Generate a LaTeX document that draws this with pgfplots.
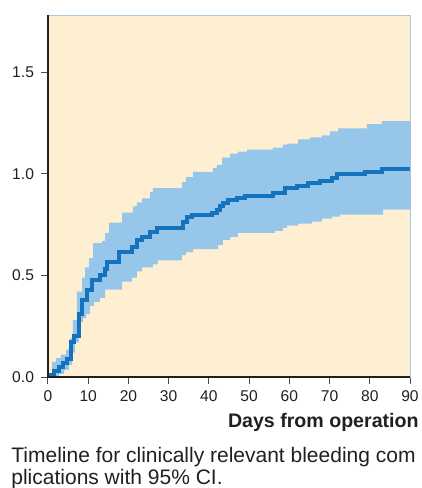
\documentclass[border=0pt]{standalone}
\usepackage{fontspec}
\setmainfont{Liberation Sans}
\usepackage{pgfplots}
\usepackage{pgfplotstable}
\pgfplotsset{compat=1.18}
\usepgfplotslibrary{fillbetween}

\definecolor{cream}{HTML}{FEEFD3}
\definecolor{ciband}{HTML}{96C6EA}
\definecolor{kmline}{HTML}{1572BC}
\definecolor{txt}{HTML}{231F20}
\definecolor{frame}{HTML}{A9C9E2}

% cumulative incidence estimate (step function)
\pgfplotstableread{
day est
0    0.01
1.5  0.03
2.7  0.05
3.7  0.07
4.7  0.09
5.7  0.17
6.5  0.20
7.6  0.31
8.5  0.38
9.7  0.43
11.0 0.48
12.9 0.50
14.2 0.53
14.7 0.565
17.6 0.615
20.9 0.64
22.1 0.675
23.4 0.69
25.4 0.715
27.1 0.735
33.6 0.765
34.6 0.79
35.8 0.80
40.8 0.81
42.0 0.825
42.8 0.84
43.5 0.857
44.8 0.87
47.0 0.88
49.0 0.893
55.9 0.906
58.9 0.93
61.9 0.94
64.6 0.955
67.6 0.965
70.6 0.98
71.9 1.00
78.8 1.01
83.0 1.025
90.0 1.025
}\estTbl

% upper 95% CI
\pgfplotstableread{
day up
0    0.0
1.0  0.075
2.0  0.093
3.2  0.11
4.5  0.135
5.5  0.19
6.2  0.28
7.2  0.42
8.5  0.49
9.2  0.54
10.2 0.585
11.2 0.66
13.4 0.67
14.2 0.71
15.2 0.76
18.4 0.81
21.1 0.84
22.1 0.86
23.4 0.88
25.4 0.91
26.1 0.93
33.3 0.96
34.3 0.985
36.1 1.01
41.0 1.03
42.0 1.045
43.3 1.08
45.3 1.10
47.2 1.11
49.5 1.12
55.9 1.13
58.4 1.145
59.4 1.15
62.2 1.17
65.1 1.18
68.1 1.19
70.1 1.21
72.1 1.225
79.3 1.245
83.0 1.26
90.0 1.26
}\upTbl

% lower 95% CI
\pgfplotstableread{
day lo
0    0.0
2.7  0.015
4.0  0.035
5.2  0.06
6.0  0.12
6.7  0.17
7.7  0.27
8.7  0.29
9.5  0.31
10.4 0.35
11.4 0.37
12.9 0.39
14.2 0.43
18.4 0.47
20.9 0.49
22.1 0.52
23.4 0.54
26.1 0.555
27.3 0.575
33.3 0.60
34.3 0.615
36.1 0.63
42.3 0.65
43.5 0.675
45.3 0.69
47.2 0.71
56.4 0.72
58.4 0.735
59.4 0.745
62.2 0.755
65.6 0.765
68.1 0.78
70.6 0.79
72.6 0.80
83.3 0.825
90.0 0.825
}\loTbl

\begin{document}
\begin{tikzpicture}
\begin{axis}[
  scale only axis,
  width=181pt, height=181pt,
  xmin=0, xmax=90, ymin=0, ymax=1.783,
  axis background/.style={fill=cream},
  axis line style={draw=frame, line width=0.5pt},
  xtick={0,10,...,90},
  ytick={0,0.5,1,1.5},
  tick align=outside,
  major tick length=3.5pt,
  xtick pos=bottom, ytick pos=left,
  tick style={draw=txt!80, line width=0.5pt},
  yticklabel style={/pgf/number format/.cd, fixed, fixed zerofill, precision=1},
  ticklabel style={font=\fontsize{7.8}{9}\selectfont, text=txt},
  /pgf/number format/assume math mode=true,
  clip=false,
]
\addplot[name path=up, const plot, draw=none] table[x=day, y=up] {\upTbl};
\addplot[name path=lo, const plot, draw=none] table[x=day, y=lo] {\loTbl};
\addplot[ciband, draw=none] fill between[of=up and lo];
\addplot[const plot, kmline, line width=2pt] table[x=day, y=est] {\estTbl};
\end{axis}
\draw[txt, line width=0.6pt] (0,181pt) -- (0,0) -- (181pt,0);
\node[anchor=base east, inner sep=0pt, font=\bfseries\fontsize{9.8}{11}\selectfont, text=txt]
  at (185.5pt,-25pt) {Days from operation};
\node[anchor=base west, inner sep=0pt, font=\fontsize{10.5}{11}\selectfont, text=txt]
  at (-18.5pt,-42.5pt) {Timeline for clinically relevant bleeding com};
\node[anchor=base west, inner sep=0pt, font=\fontsize{10.5}{11}\selectfont, text=txt]
  at (-18.5pt,-53.5pt) {plications with 95\% CI.};
\pgfresetboundingbox
\path (-24pt,-55.5pt) rectangle (187pt,188.5pt);
\end{tikzpicture}
\end{document}
